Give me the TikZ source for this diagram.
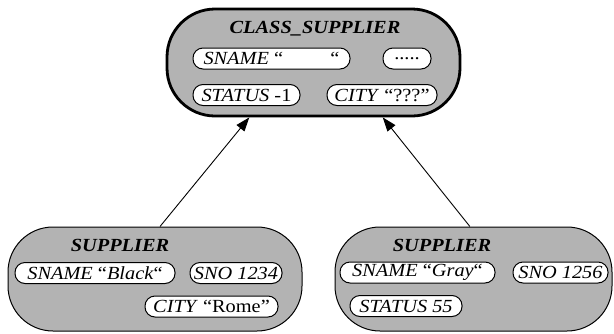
\documentclass[tikz,border=0pt]{standalone}
\usepackage{fontspec}
\setmainfont{Liberation Serif}[FakeStretch=1.1]
\usetikzlibrary{arrows.meta,calc}
\definecolor{boxgray}{RGB}{179,179,179}
\begin{document}
\begin{tikzpicture}[x=1pt,y=-1pt,
  font=\fontsize{18.5}{21}\selectfont,
  classbox/.style={draw, line width=2.8pt, fill=boxgray, rounded corners=48pt, inner sep=0pt},
  objbox/.style={draw, line width=1pt, fill=boxgray, rounded corners=45pt, inner sep=0pt},
  slot/.style={draw, line width=1pt, fill=white, rounded corners=10pt,
               minimum height=21pt, inner sep=0pt, anchor=center},
  boxtitle/.style={font=\fontsize{18.5}{21}\selectfont\bfseries\itshape},
  isa/.style={line width=0.9pt, -{Triangle[length=14pt,width=10pt]}}]
\useasboundingbox (0,0) rectangle (614,333);

% class object
\node[classbox, minimum width=293pt, minimum height=107pt] (cls) at (313.5,62.5) {};
\node[boxtitle] (clsname) at (315,29) {CLASS\_SUPPLIER};
\node[slot, minimum width=157pt] (cs1) at (271.5,58.5) {\makebox[136pt]{\textit{SNAME} “\hfill“}};
\node[slot, minimum width=48pt] (cs2) at (407,58.5) {.....};
\node[slot, minimum width=107pt] (cs3) at (246.5,95) {\textit{STATUS} -1};
\node[slot, minimum width=110pt] (cs4) at (382,95) {\textit{CITY} “???”};

% first instance
\node[objbox, minimum width=294pt, minimum height=104pt] (supL) at (155,279) {};
\node[boxtitle] (supLname) at (120,245) {SUPPLIER};
\node[slot, minimum width=160pt] (l1) at (95,273) {\textit{SNAME} “\textit{Black}“};
\node[slot, minimum width=92pt] (l2) at (236,273) {\textit{SNO 1234}};
\node[slot, minimum width=133pt] (l3) at (211.5,306.5) {\textit{CITY} “Rome”};

% second instance
\node[objbox, minimum width=277pt, minimum height=104pt] (supR) at (473.5,279) {};
\node[boxtitle] (supRname) at (442,245) {SUPPLIER};
\node[slot, minimum width=155pt] (r1) at (417.5,272.5) {\textit{SNAME} “\textit{Gray}“};
\node[slot, minimum width=95pt] (r2) at (560.5,272.5) {\textit{SNO 1256}};
\node[slot, minimum width=112pt] (r3) at (406,306) {\textit{STATUS 55}};

% instance-of links
\draw[isa] ($(supL.north west)!0.517!(supL.north east)$) -- ($(cls.south west)!0.283!(cls.south east)$);
\draw[isa] ($(supR.north west)!0.487!(supR.north east)$) -- ($(cls.south west)!0.734!(cls.south east)$);
\end{tikzpicture}
\end{document}
